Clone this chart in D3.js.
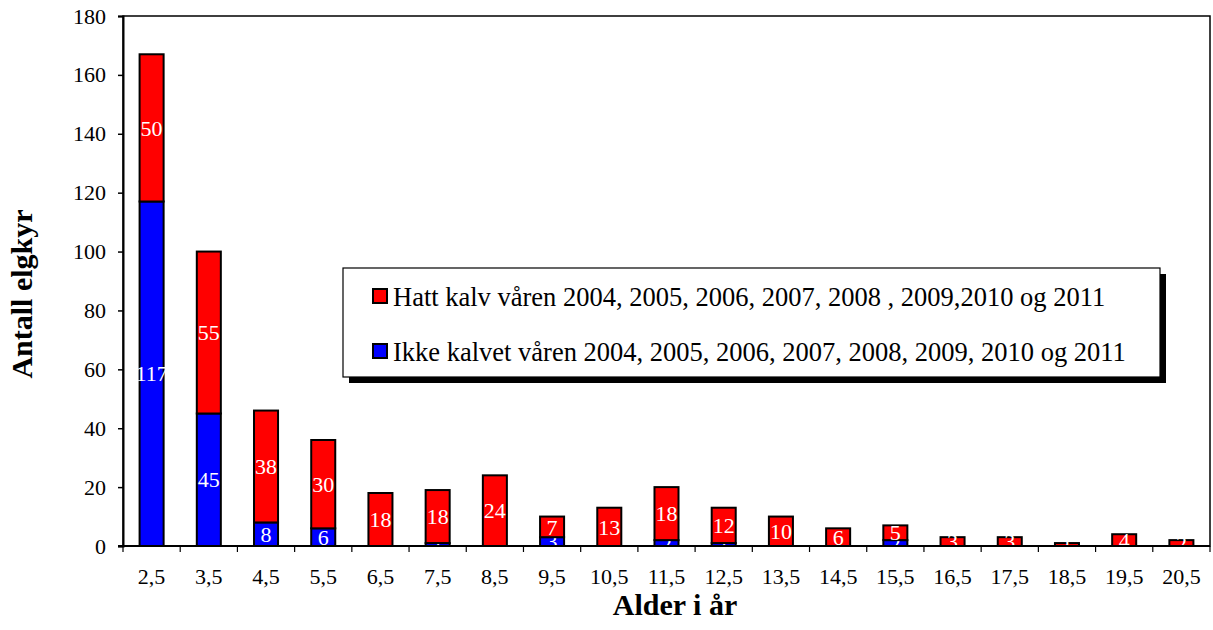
<!DOCTYPE html>
<html>
<head>
<meta charset="utf-8">
<script src="https://cdn.jsdelivr.net/npm/d3@7"></script>
<style>
  body { margin: 0; background: #fff; }
</style>
</head>
<body>
<div class="chart"></div>
<script>
// chart data
const ages = ["2,5","3,5","4,5","5,5","6,5","7,5","8,5","9,5","10,5","11,5",
              "12,5","13,5","14,5","15,5","16,5","17,5","18,5","19,5","20,5"];
const ikkeKalvet = [117, 45, 8, 6, 0, 1, 0, 3, 0, 2, 1, 0, 0, 2, 0, 0, 0, 0, 0];
const hattKalv   = [50, 55, 38, 30, 18, 18, 24, 7, 13, 18, 12, 10, 6, 5, 3, 3, 1, 4, 2];
const yTicks = [0, 20, 40, 60, 80, 100, 120, 140, 160, 180];
const legendLabels = [
  "Hatt kalv våren 2004, 2005, 2006, 2007, 2008 , 2009,2010 og 2011",
  "Ikke kalvet våren 2004, 2005, 2006, 2007, 2008, 2009, 2010 og 2011"
];

const FONT = '"Liberation Serif"';
const width = 1213, height = 630;
const plot = { left: 123, right: 1210, top: 16, bottom: 546 };

const svg = d3.select(".chart").append("svg")
  .attr("width", width)
  .attr("height", height);

const x = d3.scaleBand()
  .domain(ages)
  .range([plot.left, plot.right])
  .padding(0);

const y = d3.scaleLinear()
  .domain([0, 180])
  .range([plot.bottom, plot.top]);

const barW = x.bandwidth() * 0.42;

// stacked data: blue at the bottom, red on top
const rows = ages.map((a, i) => ({ age: a, ikke: ikkeKalvet[i], hatt: hattKalv[i] }));
const stack = d3.stack().keys(["ikke", "hatt"])(rows);
const colors = { ikke: "#0000ff", hatt: "#ff0000" };

// plot frame
svg.append("rect")
  .attr("x", plot.left).attr("y", plot.top)
  .attr("width", plot.right - plot.left)
  .attr("height", plot.bottom - plot.top)
  .attr("fill", "none")
  .attr("stroke", "#000")
  .attr("stroke-width", 1.5);

// bars
const layers = svg.append("g").selectAll("g")
  .data(stack)
  .enter().append("g")
  .attr("fill", d => colors[d.key]);

layers.selectAll("rect")
  .data(d => d.filter(s => s[1] - s[0] > 0))
  .enter().append("rect")
  .attr("x", d => x(d.data.age) + (x.bandwidth() - barW) / 2)
  .attr("y", d => y(d[1]))
  .attr("width", barW)
  .attr("height", d => y(d[0]) - y(d[1]))
  .attr("stroke", "#000")
  .attr("stroke-width", 2);

// data labels (white, so they vanish outside the bars like in the original)
layers.selectAll("text")
  .data(d => d.filter(s => s[1] - s[0] > 0))
  .enter().append("text")
  .attr("x", d => x(d.data.age) + x.bandwidth() / 2)
  .attr("y", d => y((d[0] + d[1]) / 2))
  .attr("dy", "0.35em")
  .attr("text-anchor", "middle")
  .attr("fill", "#fff")
  .style("font-family", FONT)
  .style("font-size", "22px")
  .text(d => d[1] - d[0]);

// y axis
const yAxis = svg.append("g")
  .attr("transform", `translate(${plot.left},0)`)
  .call(d3.axisLeft(y).tickValues(yTicks).tickSize(5).tickPadding(12));
yAxis.select(".domain").attr("stroke-width", 2);
yAxis.selectAll(".tick line").attr("stroke-width", 1.5);
yAxis.selectAll("text")
  .style("font-family", FONT)
  .style("font-size", "22px")
  .attr("fill", "#000");

// x axis with ticks between categories
const xAxis = svg.append("g")
  .attr("transform", `translate(0,${plot.bottom})`);
xAxis.append("line")
  .attr("x1", plot.left - 5).attr("x2", plot.right)
  .attr("stroke", "#000").attr("stroke-width", 2);
xAxis.selectAll("line.tk")
  .data(ages.concat(["end"]))
  .enter().append("line")
  .attr("class", "tk")
  .attr("x1", (d, i) => plot.left + i * x.step())
  .attr("x2", (d, i) => plot.left + i * x.step())
  .attr("y1", 0).attr("y2", 6)
  .attr("stroke", "#000").attr("stroke-width", 1.2);
xAxis.selectAll("text")
  .data(ages)
  .enter().append("text")
  .attr("x", d => x(d) + x.bandwidth() / 2)
  .attr("y", 38)
  .attr("text-anchor", "middle")
  .style("font-family", FONT)
  .style("font-size", "22px")
  .text(d => d);

// axis titles
svg.append("text")
  .attr("x", 675)
  .attr("y", 615)
  .attr("text-anchor", "middle")
  .style("font-family", FONT)
  .style("font-size", "30px")
  .style("font-weight", "bold")
  .text("Alder i år");

svg.append("text")
  .attr("transform", "translate(32,294) rotate(-90)")
  .attr("text-anchor", "middle")
  .style("font-family", FONT)
  .style("font-size", "30px")
  .style("font-weight", "bold")
  .text("Antall elgkyr");

// legend
const legend = svg.append("g").attr("transform", "translate(343,268)");
legend.append("rect")
  .attr("x", 6).attr("y", 6)
  .attr("width", 817).attr("height", 109)
  .attr("fill", "#000");
legend.append("rect")
  .attr("width", 817).attr("height", 109)
  .attr("fill", "#fff")
  .attr("stroke", "#000")
  .attr("stroke-width", 1.2);

const legendItems = legend.selectAll("g.item")
  .data([{ key: "hatt", label: legendLabels[0] }, { key: "ikke", label: legendLabels[1] }])
  .enter().append("g")
  .attr("class", "item")
  .attr("transform", (d, i) => `translate(30,${21 + i * 55})`);
legendItems.append("rect")
  .attr("width", 14).attr("height", 14)
  .attr("fill", d => colors[d.key])
  .attr("stroke", "#000")
  .attr("stroke-width", 2);
legendItems.append("text")
  .attr("x", 20).attr("y", 8)
  .attr("dy", "0.35em")
  .style("font-family", FONT)
  .style("font-size", "26.5px")
  .text(d => d.label);
</script>
</body>
</html>
